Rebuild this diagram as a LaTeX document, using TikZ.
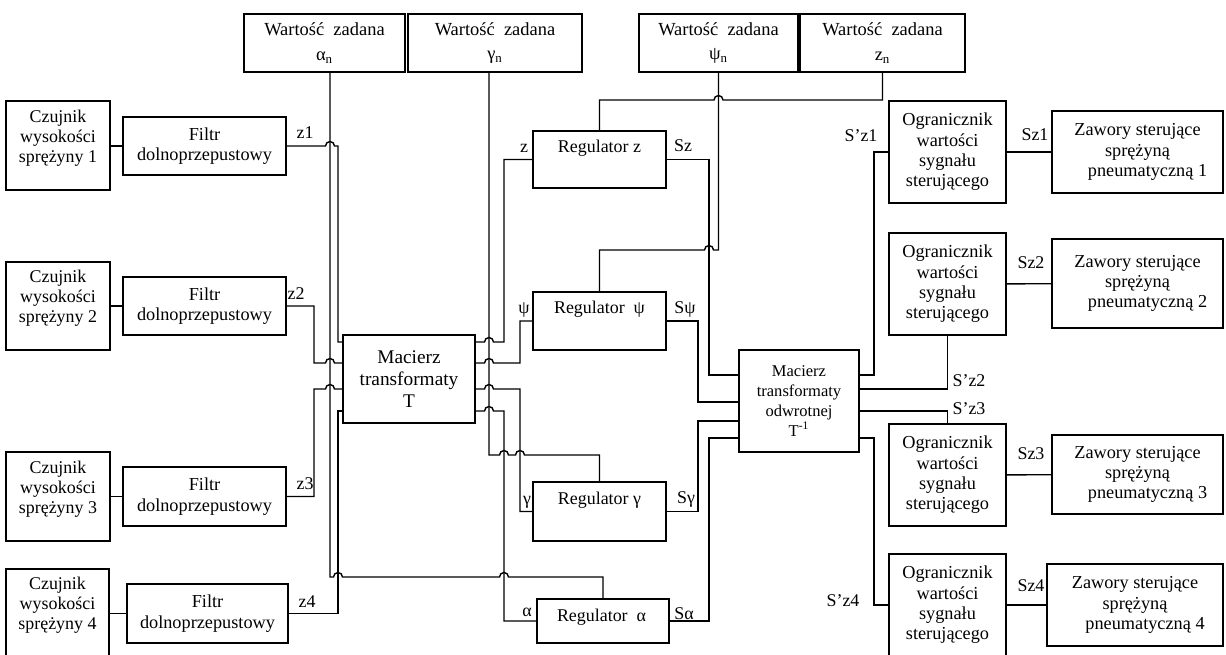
\documentclass[tikz,border=0pt]{standalone}
\usepackage{fontspec}
\setmainfont{Liberation Serif}
\usetikzlibrary{positioning}

% hop over a vertical line (rightward / leftward horizontal)
\newcommand\hopR[2]{-- ({#1-4.5},#2) arc[start angle=180,end angle=0,radius=0.09cm]}
\newcommand\hopL[2]{-- ({#1+4.5},#2) arc[start angle=0,end angle=180,radius=0.09cm]}

\tikzset{
  blok/.style={draw, line width=0.8pt, inner sep=0pt, align=center, font=\fontsize{10.4}{11.6}\selectfont},
  opis/.style={inner sep=0pt, align=center, font=\fontsize{10.2}{11.4}\selectfont},
  linia/.style={line width=0.8pt}
}

\begin{document}
\begin{tikzpicture}[x=0.02cm, y=-0.02cm]
\useasboundingbox (0,0) rectangle (1226,655);

% wartosci zadane
\node[blok, minimum width=3.22cm, minimum height=1.16cm, font=\fontsize{10.5}{14}\selectfont] (wa) at (324.5,43) {Wartość\ \ zadana\\α\textsubscript{n}};
\node[blok, minimum width=3.48cm, minimum height=1.16cm, font=\fontsize{10.5}{14}\selectfont] (wg) at (495,43) {Wartość\ \ zadana\\γ\textsubscript{n}};
\node[blok, minimum width=3.18cm, minimum height=1.16cm, font=\fontsize{10.5}{14}\selectfont] (wpn) at (718.5,43) {Wartość\ \ zadana\\ψ\textsubscript{n}};
\node[blok, minimum width=3.30cm, minimum height=1.16cm, font=\fontsize{10.5}{14}\selectfont] (wzn) at (882.5,43) {Wartość\ \ zadana\\z\textsubscript{n}};

% czujniki i filtry
\node[blok, minimum width=2.08cm, minimum height=1.78cm] (cz1) at (58,145.5) {};
\node[opis] (cz1t) at (58,138) {Czujnik\\wysokości\\sprężyny 1};
\node[blok, minimum width=2.08cm, minimum height=1.76cm] (cz2) at (58,306) {};
\node[opis] (cz2t) at (58,298) {Czujnik\\wysokości\\sprężyny 2};
\node[blok, minimum width=2.08cm, minimum height=1.78cm] (cz3) at (58,496.5) {};
\node[opis] (cz3t) at (58,489) {Czujnik\\wysokości\\sprężyny 3};
\node[blok, minimum width=2.06cm, minimum height=1.78cm] (cz4) at (57.5,613.5) {};
\node[opis] (cz4t) at (57.5,605) {Czujnik\\wysokości\\sprężyny 4};

\node[blok, minimum width=3.26cm, minimum height=1.16cm] (f1) at (204.5,146) {Filtr\\dolnoprzepustowy};
\node[blok, minimum width=3.26cm, minimum height=1.16cm] (f2) at (204.5,306) {Filtr\\dolnoprzepustowy};
\node[blok, minimum width=3.26cm, minimum height=1.18cm] (f3) at (204.5,496.5) {Filtr\\dolnoprzepustowy};
\node[blok, minimum width=3.22cm, minimum height=1.18cm] (f4) at (207.5,613.5) {Filtr\\dolnoprzepustowy};

% macierze
\node[blok, minimum width=2.64cm, minimum height=1.76cm, font=\fontsize{11}{12.7}\selectfont] (T) at (409,379) {Macierz\\transformaty\\T};
\node[blok, minimum width=2.40cm, minimum height=2.04cm, font=\fontsize{9.4}{11.3}\selectfont] (Ti) at (799,401) {Macierz\\transformaty\\odwrotnej\\T\textsuperscript{-1}};

% regulatory
\node[blok, minimum width=2.66cm, minimum height=1.14cm] (regz) at (599.5,159.5) {};
\node[opis] (regzt) at (599.5,148) {Regulator z};
\node[blok, minimum width=2.66cm, minimum height=1.16cm] (regp) at (599.5,321) {};
\node[opis] (regpt) at (599.5,309) {Regulator\ \ ψ};
\node[blok, minimum width=2.66cm, minimum height=1.18cm] (regg) at (599.5,511.5) {};
\node[opis] (reggt) at (599.5,500) {Regulator γ};
\node[blok, minimum width=2.64cm, minimum height=0.88cm] (rega) at (603,621) {};
\node[opis] (regat) at (601.5,617) {Regulator\ \ α};

% ograniczniki i zawory
\node[blok, minimum width=2.34cm, minimum height=2.04cm] (og1) at (947.5,152) {Ogranicznik\\wartości\\sygnału\\sterującego};
\node[blok, minimum width=2.34cm, minimum height=2.04cm] (og2) at (947.5,284) {Ogranicznik\\wartości\\sygnału\\sterującego};
\node[blok, minimum width=2.34cm, minimum height=2.04cm] (og3) at (947.5,475) {Ogranicznik\\wartości\\sygnału\\sterującego};
\node[blok, minimum width=2.34cm, minimum height=2.04cm] (og4) at (947.5,605) {Ogranicznik\\wartości\\sygnału\\sterującego};

\node[blok, minimum width=3.42cm, minimum height=1.64cm] (zw1) at (1137.5,152) {Zawory sterujące\\sprężyną\\\hspace*{0.4cm}pneumatyczną 1};
\node[blok, minimum width=3.42cm, minimum height=1.78cm] (zw2) at (1137.5,283.5) {Zawory sterujące\\sprężyną\\\hspace*{0.4cm}pneumatyczną 2};
\node[blok, minimum width=3.42cm, minimum height=1.58cm] (zw3) at (1137.5,474.5) {Zawory sterujące\\sprężyną\\\hspace*{0.4cm}pneumatyczną 3};
\node[blok, minimum width=3.52cm, minimum height=1.64cm] (zw4) at (1135,605) {Zawory sterujące\\sprężyną\\\hspace*{0.4cm}pneumatyczną 4};

% czujnik -- filtr
\draw[linia] (cz1.east |- f1.west) -- (f1.west);
\draw[linia] (cz2.east |- f2.west) -- (f2.west);
\draw[linia] (cz3.east |- f3.west) -- (f3.west);
\draw[linia] (cz4.east |- f4.west) -- (f4.west);

% filtr -- macierz T
\draw[linia] (f1.east) \hopR{330}{146} -- (338,146) -- (338,342) -- (T.west |- 0,342);
\draw[linia] (f2.east) -- (314,306) -- (314,363) \hopR{330}{363} -- (T.west |- 0,363);
\draw[linia] (f3.east) -- (314,496.5) -- (314,389) \hopR{330}{389} -- (T.west |- 0,389);
\draw[linia] (f4.east) -- (338,613.5) -- (338,411) -- (T.west |- 0,411);

% wartosci zadane -- regulatory
\draw[linia] (wa.south -| 330,0) -- (330,577) \hopR{338}{577} \hopR{504}{577} -- (rega.north |- 0,577) -- (rega.north);
\draw[linia] (wg.south -| 489,0) -- (489,455) \hopR{504}{455} \hopR{520}{455} -- (regg.north |- 0,455) -- (regg.north);
\draw[linia] (wzn.south) -- (wzn.south |- 0,100) \hopL{718.5}{100} -- (regz.north |- 0,100) -- (regz.north);
\draw[linia] (wpn.south) -- (wpn.south |- 0,250) \hopL{709}{250} -- (regp.north |- 0,250) -- (regp.north);

% macierz T -- regulatory
\draw[linia] (T.east |- 0,342) \hopR{489}{342} -- (504,342) -- (504,159.5) -- (regz.west);
\draw[linia] (T.east |- 0,363) \hopR{489}{363} -- (520,363) -- (520,321) -- (regp.west);
\draw[linia] (T.east |- 0,389) \hopR{489}{389} -- (520,389) -- (520,511.5) -- (regg.west);
\draw[linia] (T.east |- 0,411) \hopR{489}{411} -- (504,411) -- (504,621) -- (rega.west);

% regulatory -- macierz odwrotna
\draw[linia] (regz.east) -- (709,159.5) -- (709,375) -- (Ti.west |- 0,375);
\draw[linia] (regp.east) -- (698,321) -- (698,402) -- (Ti.west |- 0,402);
\draw[linia] (regg.east) -- (698,511.5) -- (698,421) -- (Ti.west |- 0,421);
\draw[linia] (rega.east) -- (709,621) -- (709,438) -- (Ti.west |- 0,438);

% macierz odwrotna -- ograniczniki -- zawory
\draw[linia] (Ti.east |- 0,375) -- (874,375) -- (874,152) -- (og1.west);
\draw[linia] (Ti.east |- 0,389) -- (og2.south |- 0,389) -- (og2.south);
\draw[linia] (Ti.east |- 0,411) -- (og3.north |- 0,411) -- (og3.north);
\draw[linia] (Ti.east |- 0,438) -- (874,438) -- (874,605) -- (og4.west);
\draw[linia] (og1) -- (zw1);
\draw[linia] (og2) -- (zw2);
\draw[linia] (og3) -- (zw3);
\draw[linia] (og4) -- (zw4);

% opisy sygnalow
\node[opis] (lz1) at (305,133) {z1};
\node[opis] (lz2) at (296,294) {z2};
\node[opis] (lz3) at (305,484) {z3};
\node[opis] (lz4) at (307,602) {z4};
\node[opis] (lrz) at (524,148) {z};
\node[opis] (lrp) at (524,310) {ψ};
\node[opis] (lrg) at (527,502) {γ};
\node[opis] (lra) at (527,612) {α};
\node[opis] (lsz) at (683,146) {Sz};
\node[opis] (lsp) at (685,309) {Sψ};
\node[opis] (lsg) at (686,499) {Sγ};
\node[opis] (lsa) at (684,614) {Sα};
\node[opis] (lsz1) at (861,136) {S’z1};
\node[opis] (lsz2) at (969,381) {S’z2};
\node[opis] (lsz3) at (969,409) {S’z3};
\node[opis] (lsz4) at (843,601) {S’z4};
\node[opis] (lz1o) at (1035,135) {Sz1};
\node[opis] (lz2o) at (1031,263) {Sz2};
\node[opis] (lz3o) at (1031,454) {Sz3};
\node[opis] (lz4o) at (1031,586) {Sz4};
\end{tikzpicture}
\end{document}
